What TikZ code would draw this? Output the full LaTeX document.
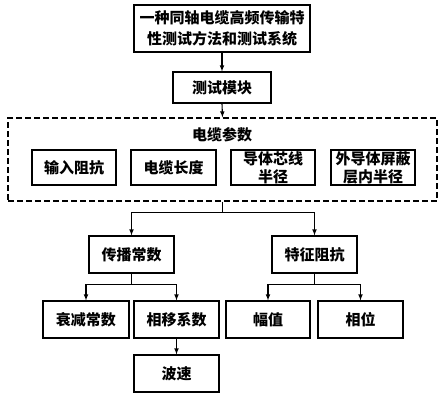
\documentclass[tikz,border=0pt]{standalone}
\usepackage{fontspec}
\newfontfamily\cjk{Noto Sans CJK SC}
\usepackage{tikz}
\usetikzlibrary{calc}

\begin{document}
\begin{tikzpicture}[x=1pt,y=-1pt,
        box/.style={draw,line width=1.1pt,align=center,inner sep=0pt,
            font=\cjk\bfseries\fontsize{15}{18}\selectfont},
        arr/.style={line width=1.1pt,-latex}]
        \useasboundingbox (0,0) rectangle (445,400);

        \node[box,minimum width=176pt,minimum height=47pt,font=\cjk\bfseries\fontsize{15}{21}\selectfont] (title) at (222,28.5) {一种同轴电缆高频传输特\\性测试方法和测试系统};
        \node[box,minimum width=98pt,minimum height=31pt] (module) at (222,87.5) {测试模块};

        \node[draw,line width=1.1pt,dash pattern=on 6pt off 3pt,minimum width=429pt,minimum height=83pt] (frame) at (222.5,159.5) {};
        \node[font=\cjk\bfseries\fontsize{15}{18}\selectfont] (params) at (222,135) {电缆参数};
        \node[box,minimum width=84pt,minimum height=35pt] (zin) at (74,167.5) {输入阻抗};
        \node[box,minimum width=85pt,minimum height=35pt] (len) at (173.5,167.5) {电缆长度};
        \node[box,minimum width=84pt,minimum height=35pt] (core) at (273,167.5) {导体芯线\\半径};
        \node[box,minimum width=84pt,minimum height=35pt] (shield) at (373,167.5) {外导体屏蔽\\层内半径};

        \node[box,minimum width=85pt,minimum height=37pt] (prop) at (131.5,254.5) {传播常数};
        \node[box,minimum width=85pt,minimum height=37pt] (zc) at (314.5,254.5) {特征阻抗};
        \node[box,minimum width=86pt,minimum height=37pt] (atten) at (86,319.5) {衰减常数};
        \node[box,minimum width=85pt,minimum height=37pt] (phase) at (176.5,319.5) {相移系数};
        \node[box,minimum width=85pt,minimum height=37pt] (speed) at (176.5,373.5) {波速};
        \node[box,minimum width=84pt,minimum height=37pt] (amp) at (268,319.5) {幅值};
        \node[box,minimum width=85pt,minimum height=37pt] (ang) at (360.5,319.5) {相位};

        \draw[arr] (title.south) -- (module.north);
        \draw[arr] (module.south) -- (frame.north);
        \coordinate (j1) at ($(frame.south)+(0,11)$);
        \draw[line width=1.1pt] (frame.south) -- (j1);
        \draw[arr] (j1) -| (prop.north);
        \draw[arr] (j1) -| (zc.north);
        \coordinate (j2) at ($(prop.south)+(0,11)$);
        \draw[line width=1.1pt] (prop.south) -- (j2);
        \draw[arr] (j2) -| (atten.north);
        \draw[arr] (j2) -| (phase.north);
        \coordinate (j3) at ($(zc.south)+(0,11)$);
        \draw[line width=1.1pt] (zc.south) -- (j3);
        \draw[arr] (j3) -| (amp.north);
        \draw[arr] (j3) -| (ang.north);
        \draw[arr] (phase.south) -- (speed.north);
    \end{tikzpicture}
\end{document}
